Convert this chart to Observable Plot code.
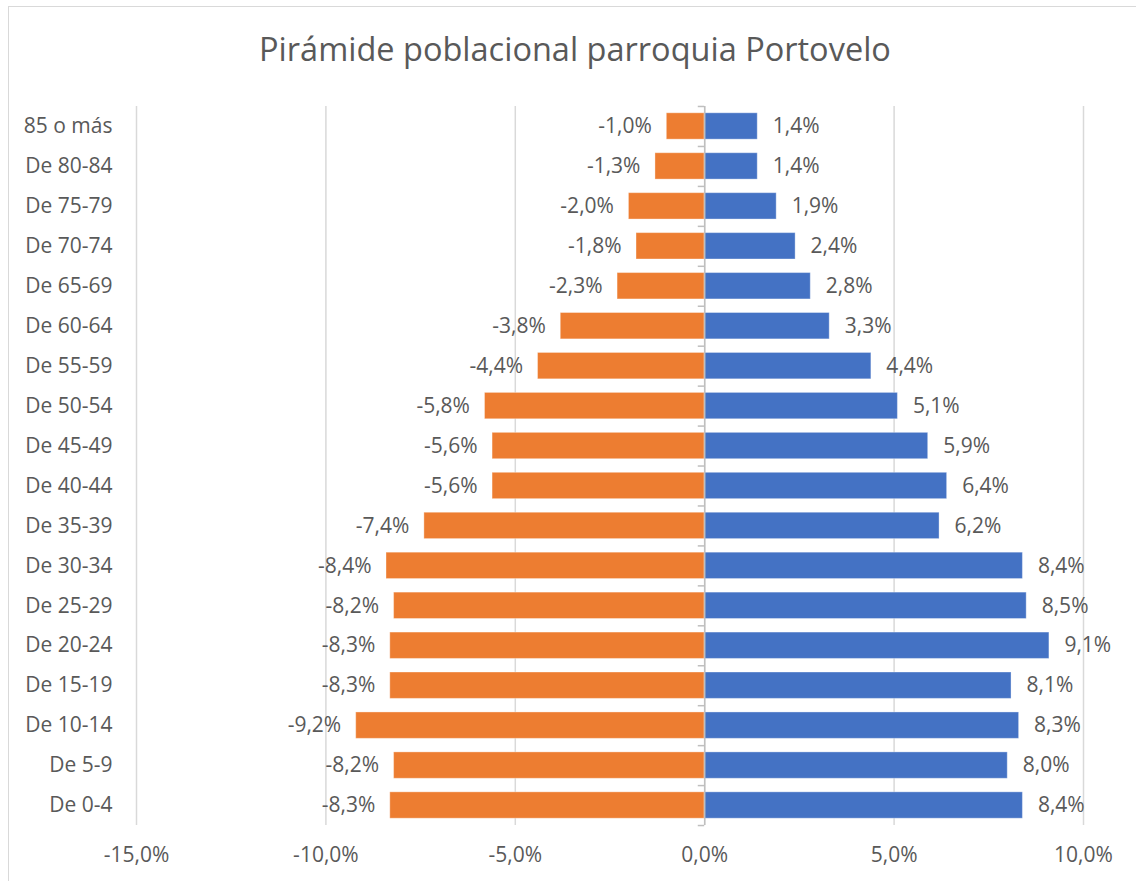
<!DOCTYPE html>
<html>
<head>
<meta charset="utf-8">
<script src="https://cdn.jsdelivr.net/npm/d3@7"></script>
<script src="https://cdn.jsdelivr.net/npm/@observablehq/plot@0.6"></script>
<style>
  html, body { margin: 0; padding: 0; background: #fff; width: 1136px; height: 881px; overflow: hidden; }
  #frame { position: absolute; left: 8px; top: 6px; width: 1140px; height: 900px; border: 1.5px solid #d9d9d9; box-sizing: border-box; }
  #title { position: absolute; left: 0; width: 1150px; top: 26px; text-align: center; font-family: "Open Sans", sans-serif; font-size: 32.5px; color: #595959; }
  #chart { position: absolute; left: 0; top: 0; }
</style>
</head>
<body>
<div id="frame"></div>
<div id="title">Pirámide poblacional parroquia Portovelo</div>
<div id="chart"></div>
<script>
const ages = ["85 o más","De 80-84","De 75-79","De 70-74","De 65-69","De 60-64","De 55-59","De 50-54","De 45-49","De 40-44","De 35-39","De 30-34","De 25-29","De 20-24","De 15-19","De 10-14","De 5-9","De 0-4"];
const leftSeries = [-1.0,-1.3,-2.0,-1.8,-2.3,-3.8,-4.4,-5.8,-5.6,-5.6,-7.4,-8.4,-8.2,-8.3,-8.3,-9.2,-8.2,-8.3];
const rightSeries = [1.4,1.4,1.9,2.4,2.8,3.3,4.4,5.1,5.9,6.4,6.2,8.4,8.5,9.1,8.1,8.3,8.0,8.4];
const xTicks = [-15,-10,-5,0,5,10];

const fmt = v => v.toFixed(1).replace(".", ",") + "%";
const rows = [
  ...ages.map((a, i) => ({age: a, value: leftSeries[i], side: "izq"})),
  ...ages.map((a, i) => ({age: a, value: rightSeries[i], side: "der"}))
];

const textColor = "#595959";
const fs = 21;
const chart = Plot.plot({
  width: 1136,
  height: 881,
  marginLeft: 136,
  marginRight: 53,
  marginTop: 106,
  marginBottom: 56,
  style: {fontFamily: "Open Sans, sans-serif", fontSize: fs + "px", color: textColor, background: "transparent"},
  x: {domain: [-15, 10]},
  y: {domain: ages, paddingInner: 0.34, paddingOuter: 0.17, round: false},
  color: {domain: ["izq","der"], range: ["#ED7D31","#4472C4"]},
  marks: [
    Plot.gridX(xTicks, {stroke: "#d9d9d9", strokeOpacity: 1, strokeWidth: 1.5}),
    Plot.barX(rows, {y: "age", x: "value", fill: "side", stroke: "#fff", strokeOpacity: 0.35, strokeWidth: 1}),
    Plot.ruleX([0], {stroke: "#bfbfbf", strokeWidth: 1.5}),
    Plot.ruleY(ages, {y: d => d, x1: -0.17, x2: 0, dy: 20, stroke: "#bfbfbf", strokeWidth: 1.5}),
    Plot.ruleY([ages[0]], {y: d => d, x1: -0.17, x2: 0, dy: -20, stroke: "#bfbfbf", strokeWidth: 1.5}),
    Plot.text(rows.filter(d => d.value < 0), {y: "age", x: "value", text: d => fmt(d.value), textAnchor: "end", dx: -15, fill: textColor, fontSize: fs}),
    Plot.text(rows.filter(d => d.value > 0), {y: "age", x: "value", text: d => fmt(d.value), textAnchor: "start", dx: 15, fill: textColor, fontSize: fs}),
    Plot.axisX(xTicks, {tickSize: 0, tickPadding: 22, tickFormat: fmt, label: null, fill: textColor, fontSize: fs}),
    Plot.axisY({tickSize: 0, tickPadding: 24, label: null, fill: textColor, fontSize: fs})
  ]
});
document.getElementById("chart").appendChild(chart);
</script>
</body>
</html>
